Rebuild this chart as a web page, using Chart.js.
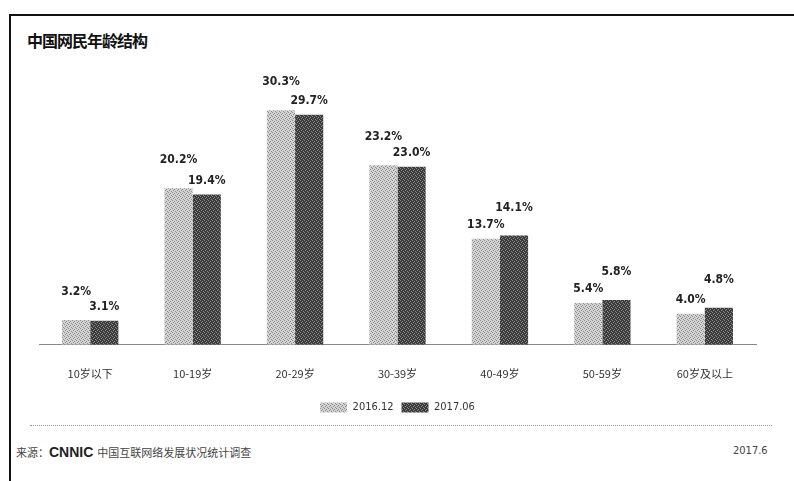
<!DOCTYPE html>
<html lang="zh">
<head>
    <meta charset="UTF-8">
    <title>中国网民年龄结构</title>
    <style>
        body { margin: 0; background: #fff; width: 794px; height: 481px; overflow: hidden; position: relative; font-family: "Noto Sans CJK SC", sans-serif; }
        #frame { position: absolute; left: 9px; top: 14px; width: 790px; height: 480px; border-left: 2px solid #111; border-top: 2px solid #111; }
        #title { position: absolute; left: 27px; top: 28px; font-size: 16px; font-weight: bold; color: #111; letter-spacing: -1px; }
        .chart-container { position: absolute; left: 0; top: 0; width: 794px; height: 423px; }
        #rule { position: absolute; left: 30px; top: 425px; width: 742px; border-top: 1px dotted #999; }
        #source { position: absolute; left: 16px; top: 444px; font-size: 11px; color: #444; }
        #source b { font-family: "Liberation Sans", sans-serif; font-size: 14px; color: #222; margin-right: 4px; }
        #date { position: absolute; left: 733px; top: 444px; font-size: 11px; color: #444; font-family: "DejaVu Sans Condensed", sans-serif; }
    </style>
</head>
<body>
    <div id="frame"></div>
    <div id="title">中国网民年龄结构</div>
    <div class="chart-container"><canvas id="ageChart"></canvas></div>
    <div id="rule"></div>
    <div id="source">来源：<b>CNNIC</b>中国互联网络发展状况统计调查</div>
    <div id="date">2017.6</div>

    <script src="https://cdn.jsdelivr.net/npm/chart.js"></script>
    <script>
        const ageGroups = ['10岁以下', '10-19岁', '20-29岁', '30-39岁', '40-49岁', '50-59岁', '60岁及以上'];
        const seriesNames = ['2016.12', '2017.06'];
        const dec2016 = [3.2, 20.2, 30.3, 23.2, 13.7, 5.4, 4.0];
        const jun2017 = [3.1, 19.4, 29.7, 23.0, 14.1, 5.8, 4.8];

        // stippled fill like the scanned print
        function stipple(base, dot) {
            const c = document.createElement('canvas');
            c.width = 4; c.height = 4;
            const g = c.getContext('2d');
            g.fillStyle = base; g.fillRect(0, 0, 4, 4);
            g.fillStyle = dot;
            g.fillRect(0, 0, 1, 1); g.fillRect(2, 1, 1, 1); g.fillRect(1, 2, 1, 1); g.fillRect(3, 3, 1, 1);
            return g.createPattern(c, 'repeat');
        }
        const lightFill = stipple('#d2d2d2', '#8c8c8c');
        const darkFill = stipple('#3c3c3c', '#8a8a8a');

        const valueLabels = {
            id: 'valueLabels',
            afterDatasetsDraw(chart) {
                const ctx = chart.ctx;
                ctx.save();
                ctx.font = 'bold 12px "DejaVu Sans Condensed", sans-serif';
                ctx.fillStyle = '#222';
                ctx.textAlign = 'center';
                ctx.textBaseline = 'bottom';
                chart.data.datasets.forEach((ds, i) => {
                    const other = chart.data.datasets[1 - i].data;
                    chart.getDatasetMeta(i).data.forEach((bar, j) => {
                        const higher = ds.data[j] > other[j] || (ds.data[j] === other[j] && i === 0);
                        const off = higher ? 22 : 8;
                        ctx.fillText(ds.data[j].toFixed(1) + '%', bar.x, bar.y - off);
                    });
                });
                ctx.restore();
            }
        };

        new Chart(document.getElementById('ageChart').getContext('2d'), {
            type: 'bar',
            data: {
                labels: ageGroups,
                datasets: [
                    { label: seriesNames[0], data: dec2016, backgroundColor: lightFill },
                    { label: seriesNames[1], data: jun2017, backgroundColor: darkFill }
                ]
            },
            options: {
                responsive: true,
                maintainAspectRatio: false,
                animation: false,
                layout: { padding: { left: 39, right: 38, top: 66, bottom: 0 } },
                datasets: { bar: { categoryPercentage: 0.55, barPercentage: 1 } },
                plugins: {
                    tooltip: { enabled: false },
                    legend: {
                        position: 'bottom',
                        labels: {
                            boxWidth: 27, boxHeight: 10, padding: 8,
                            color: '#333',
                            font: { size: 11, family: '"DejaVu Sans Condensed", sans-serif' }
                        }
                    }
                },
                scales: {
                    x: {
                        grid: { display: false },
                        border: { display: true, color: '#888', dash: [1, 2] },
                        ticks: { color: '#333', padding: 14, font: { size: 11, family: '"Noto Sans CJK SC", sans-serif' } }
                    },
                    y: { display: false, min: 0, max: 36 }
                }
            },
            plugins: [valueLabels]
        });
    </script>
</body>
</html>
